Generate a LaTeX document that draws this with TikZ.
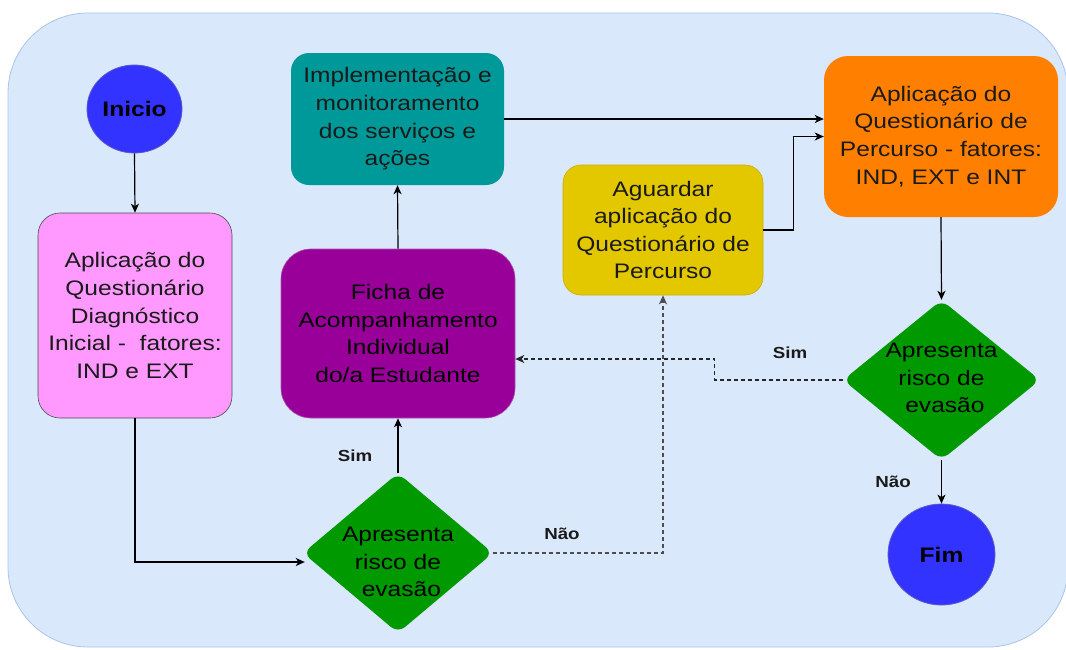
\documentclass[tikz,border=0pt]{standalone}
\usepackage{fontspec}
\setmainfont{Liberation Sans}[FakeStretch=1.17]
\usetikzlibrary{shapes.geometric,arrows.meta,calc}
\definecolor{bgc}{HTML}{DAE8FC}
\definecolor{bgd}{HTML}{A9C4EB}
\definecolor{pinkc}{HTML}{FF99FF}
\definecolor{purc}{HTML}{990099}
\definecolor{purd}{HTML}{B04DB0}
\definecolor{tealc}{HTML}{009999}
\definecolor{orac}{HTML}{FF8000}
\definecolor{yelc}{HTML}{E3C800}
\definecolor{yeld}{HTML}{C9AE00}
\definecolor{grnc}{HTML}{009900}
\definecolor{bluc}{HTML}{3333FF}
\definecolor{blud}{HTML}{5A5AC8}
\definecolor{tc}{HTML}{1A1A1A}
\definecolor{dashg}{HTML}{4D4D4D}
\tikzset{
  box/.style={rectangle, rounded corners=22pt, align=center, text=tc, inner sep=0,
    font=\fontsize{21}{27.6}\selectfont},
  circ/.style={ellipse, fill=bluc, draw=blud, line width=0.8pt, inner sep=0,
    font=\bfseries\fontsize{21}{25}\selectfont, text=black},
  dia/.style={diamond, fill=grnc, rounded corners=9pt, inner sep=0,
    minimum width=197pt, minimum height=160pt},
  dtxt/.style={align=center, text=black, inner sep=0, font=\fontsize{21}{27.6}\selectfont},
  lbl/.style={font=\bfseries\fontsize{16}{18}\selectfont, text=tc, inner sep=0},
  conn/.style={line width=1.2pt, draw=black, -{Stealth[length=9pt,width=8pt,inset=2.5pt]}},
  dconn/.style={line width=1.2pt, draw=dashg, dash pattern=on 4pt off 3pt,
    -{Stealth[length=9pt,width=8pt,inset=2.5pt]}, color=dashg}
}
\begin{document}
\begin{tikzpicture}[x=1pt,y=-1pt]
\useasboundingbox (0,0) rectangle (1066,649);
\begin{scope}
\clip (0,0) rectangle (1066,649);
\path[fill=bgc, draw=bgd, line width=0.8pt, rounded corners=80pt] (8,13) rectangle (1068,647);
\end{scope}

% nodes
\node[circ, minimum width=95pt, minimum height=88pt] (ini) at (134.5,109) {Inicio};
\node[box, fill=pinkc, draw=black!70, line width=0.6pt, minimum width=194pt, minimum height=205pt] (pink) at (135,315.5)
  {Aplicação do\\Questionário\\Diagnóstico\\Inicial -~ fatores:\\IND e EXT};
\node[box, fill=purc, draw=purd, line width=0.6pt, rounded corners=30pt, text=black, minimum width=234pt, minimum height=169pt] (fic) at (398,333.5)
  {Ficha de\\Acompanhamento\\Individual\\do/a Estudante};
\node[box, fill=tealc, rounded corners=18pt, minimum width=213pt, minimum height=132pt] (imp) at (397.5,119)
  {Implementação e\\monitoramento\\dos serviços e\\ações};
\node[box, fill=orac, rounded corners=24pt, minimum width=234pt, minimum height=161pt] (ora) at (941,136.5)
  {Aplicação do\\Questionário de\\Percurso - fatores:\\IND, EXT e INT};
\node[box, fill=yelc, draw=yeld, line width=0.6pt, rounded corners=18pt, minimum width=200pt, minimum height=130pt] (yel) at (663,230)
  {Aguardar\\aplicação do\\Questionário de\\Percurso};
\node[dia, minimum width=190pt] (d1) at (398,553) {};
\node[dtxt] (d1t) at (398,562) {Apresenta\\risco de\\~evasão};
\node[dia] (d2) at (941.5,380) {};
\node[dtxt] (d2t) at (941.5,378) {Apresenta\\risco de\\~evasão};
\node[circ, minimum width=107pt, minimum height=101pt] (fim) at (941.5,554.5) {Fim};

% labels
\node[lbl] (l1) at (355,456) {Sim};
\node[lbl] (l2) at (562,534) {Não};
\node[lbl] (l3) at (790,353) {Sim};
\node[lbl] (l4) at (893,482) {Não};

% connectors
\draw[conn] (ini.south) -- (pink.north);
\draw[conn] (pink.south) |- ($(d1.west)+(2,9)$);
\draw[conn] (d1.north) -- (fic.south);
\draw[conn] (fic.north) -- (imp.south);
\draw[conn] (imp.east) -- (imp.east -| ora.west);
\draw[conn] (yel.east) -- ++(30,0) |- (ora.west);
\draw[dconn] (d1.east) -| (yel.south);
\draw[conn] (ora.south) -- (d2.north);
\draw[dconn, draw=black!85, color=black!85] (d2.west) -- ++(-128,0) |- ($(fic.east)+(0,25.5)$);
\draw[conn] (d2.south) -- (fim.north);
\end{tikzpicture}
\end{document}
